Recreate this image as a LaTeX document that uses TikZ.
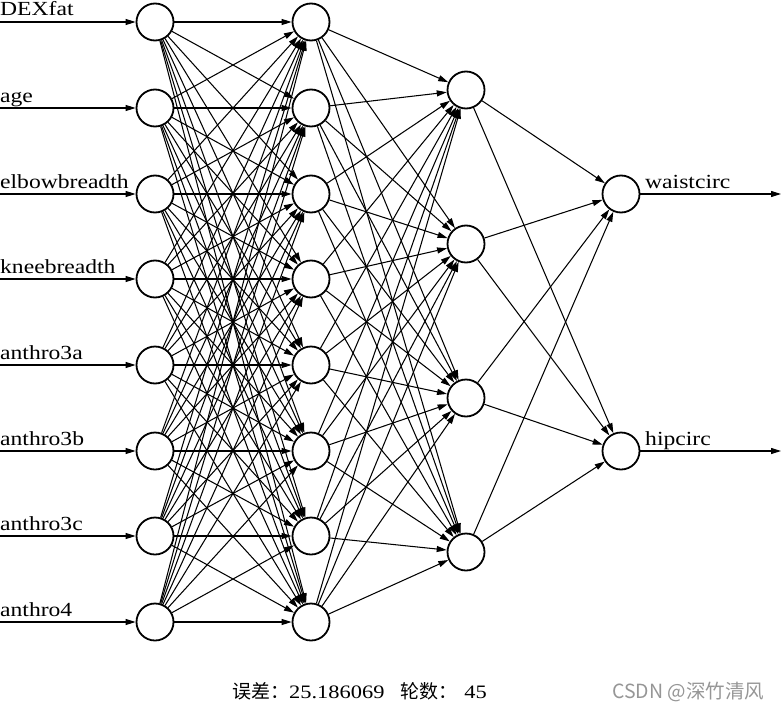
\documentclass[tikz,border=0pt]{standalone}
\usepackage{fontspec}
\setmainfont{Liberation Serif}[FakeStretch=1.18]
\newfontfamily\cjk{Noto Sans CJK SC}
\usetikzlibrary{arrows.meta}
\definecolor{wmgray}{RGB}{150,150,150}
\begin{document}
\begin{tikzpicture}[x=1pt,y=-1pt,
  neuron/.style={circle,draw,line width=1.8pt,minimum size=37pt,inner sep=0pt,fill=white},
  conn/.style={line width=1.05pt,-{Triangle[length=10pt,width=6pt]}},
  lab/.style={anchor=base west,inner sep=0pt,font=\fontsize{20}{24}\selectfont}]
\useasboundingbox (0,0) rectangle (781,709);
% layer 1 and 2
\foreach \i/\y in {1/22,2/108,3/194,4/279,5/365,6/451,7/536,8/622}{
  \node[neuron] (A\i) at (155,\y) {};
  \node[neuron] (B\i) at (311,\y) {};
  \coordinate (in\i) at (0,\y);
}
\foreach \i/\y in {1/90,2/244,3/398,4/552}{
  \node[neuron] (C\i) at (466,\y) {};
}
\node[neuron] (D1) at (621,194) {};
\node[neuron] (D2) at (621,451) {};
\coordinate (out1) at (781,194);
\coordinate (out2) at (781,451);
% connections
\foreach \i in {1,...,8}{
  \draw[conn] (in\i) -- (A\i);
  \foreach \j in {1,...,8}{
    \draw[conn] (A\i) -- (B\j);
  }
  \foreach \k in {1,...,4}{
    \draw[conn] (B\i) -- (C\k);
  }
}
\foreach \k in {1,...,4}{
  \draw[conn] (C\k) -- (D1);
  \draw[conn] (C\k) -- (D2);
}
\draw[conn] (D1) -- (out1);
\draw[conn] (D2) -- (out2);
% input labels
\node[lab] (t1) at (0,16) {DEXfat};
\node[lab] (t2) at (0,102) {age};
\node[lab] (t3) at (0,188) {elbowbreadth};
\node[lab] (t4) at (0,273) {kneebreadth};
\node[lab] (t5) at (0,359) {anthro3a};
\node[lab] (t6) at (0,445) {anthro3b};
\node[lab] (t7) at (0,530) {anthro3c};
\node[lab] (t8) at (0,616) {anthro4};
% output labels
\node[lab] (o1) at (645,188) {waistcirc};
\node[lab] (o2) at (645,445) {hipcirc};
% caption
\node[anchor=base west,inner sep=0pt,font=\fontsize{19}{22}\selectfont] (cap) at (232,698)
  {{\cjk 误差：}25.186069\hspace{16pt}{\cjk 轮数：}\hspace{7pt}45};
\node[anchor=base west,inner sep=0pt,text=wmgray,font=\fontsize{19.5}{22}\selectfont\cjk] (wm) at (612,698)
  {CSDN @深竹清风};
\end{tikzpicture}
\end{document}
